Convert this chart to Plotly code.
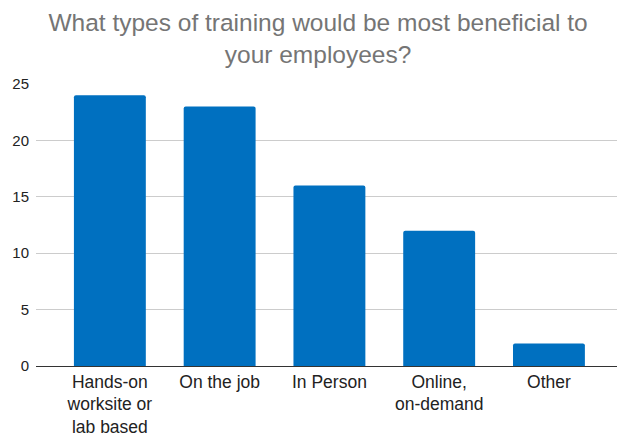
import plotly.graph_objects as go

categories = ["Hands-on<br>worksite or<br>lab based", "On the job", "In Person", "Online,<br>on-demand", "Other"]
counts = [24, 23, 16, 12, 2]
y_ticks = [0, 5, 10, 15, 20, 25]

fig = go.Figure(
    go.Bar(
        x=categories,
        y=counts,
        marker=dict(color="#0070c0", cornerradius=2, line=dict(width=0)),
        hoverinfo="x+y",
    )
)

fig.update_layout(
    width=620,
    height=436,
    margin=dict(l=36, r=3, t=84, b=70),
    paper_bgcolor="white",
    plot_bgcolor="white",
    bargap=0.345,
    showlegend=False,
    font=dict(family="Liberation Sans, Arial, sans-serif", color="#222222"),
    title=dict(
        text="What types of training would be most beneficial to<br>your employees?",
        x=0.513,
        xanchor="center",
        xref="container",
        yref="container",
        y=0.928,
        yanchor="middle",
        font=dict(size=24.5, color="#757575"),
    ),
)

fig.update_xaxes(
    range=[-0.673, 4.62],
    showgrid=False,
    showline=False,
    ticks="",
    automargin=False,
    ticklabelstandoff=3,
    tickfont=dict(size=17.5, color="#222222"),
    fixedrange=True,
)

fig.update_yaxes(
    range=[0, 25],
    tickvals=y_ticks,
    showgrid=True,
    gridcolor="#cccccc",
    gridwidth=1,
    zeroline=True,
    zerolinecolor="#333333",
    zerolinewidth=1,
    ticks="",
    automargin=False,
    ticklabelstandoff=6,
    tickfont=dict(size=15, color="#222222"),
    fixedrange=True,
)

fig.write_html("out.html")
